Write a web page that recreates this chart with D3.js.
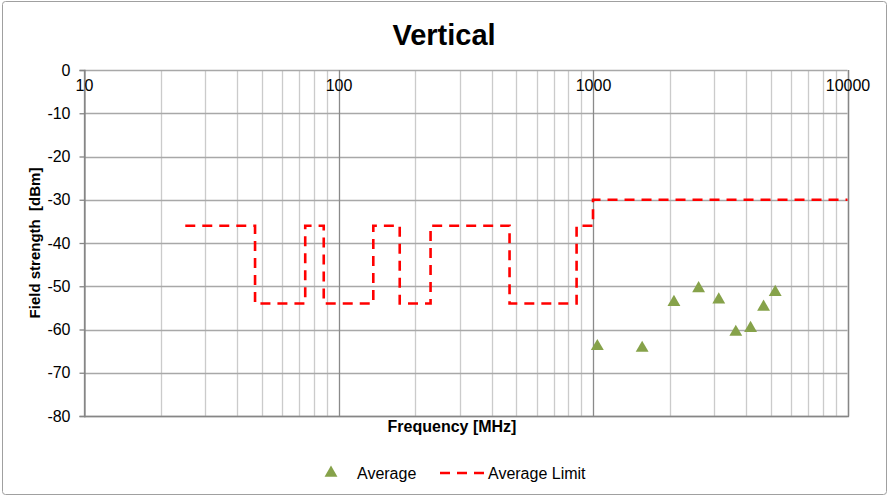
<!DOCTYPE html>
<html>
<head>
<meta charset="utf-8">
<script src="https://cdn.jsdelivr.net/npm/d3@7"></script>
<style>
  html, body { margin: 0; padding: 0; background: #fff; }
  svg { display: block; font-family: "Liberation Sans", Arial, sans-serif; }
</style>
</head>
<body>
<svg id="chart" width="888" height="496"></svg>
<script>
// Measured average emission levels (vertical polarisation)
const avgFreq  = [1040, 1560, 2080, 2600, 3120, 3640, 4160, 4680, 5200];
const avgLevel = [-63.9, -64.3, -53.7, -50.5, -53.1, -60.6, -59.7, -54.8, -51.4];

// Average limit mask (step function, frequency in MHz / level in dBm)
const limitFreq  = [25, 47, 47, 74, 74, 87.5, 87.5, 137, 137, 174, 174, 230, 230, 470, 470, 862, 862, 1000, 1000, 10000];
const limitLevel = [-36, -36, -54, -54, -36, -36, -54, -54, -36, -36, -54, -54, -36, -36, -54, -54, -36, -36, -30, -30];

// Axis ticks
const xTicks = [10, 100, 1000, 10000];
const yTicks = [0, -10, -20, -30, -40, -50, -60, -70, -80];

const svg = d3.select("#chart");
const plot = { left: 84, right: 847.5, top: 70, bottom: 416 };

const x = d3.scaleLog().domain([10, 10000]).range([plot.left, plot.right]);
const y = d3.scaleLinear().domain([-80, 0]).range([plot.bottom, plot.top]);

// Outer chart frame
svg.append("rect")
  .attr("x", 2.5).attr("y", 1.5).attr("width", 884).attr("height", 493)
  .attr("rx", 3).attr("fill", "#fff").attr("stroke", "#a0a0a0").attr("stroke-width", 1);

// Title
svg.append("text")
  .attr("x", 444).attr("y", 45).attr("text-anchor", "middle")
  .attr("font-size", 29).attr("font-weight", "bold").attr("fill", "#000")
  .text("Vertical");

// Minor vertical gridlines (2..9 in each decade)
const minor = [];
for (let dec = 10; dec < 10000; dec *= 10) {
  for (let m = 2; m <= 9; m++) minor.push(dec * m);
}
svg.append("g").selectAll("line").data(minor).join("line")
  .attr("x1", d => Math.round(x(d)) + 0.5).attr("x2", d => Math.round(x(d)) + 0.5)
  .attr("y1", plot.top).attr("y2", plot.bottom)
  .attr("stroke", "#cbcbcb").attr("stroke-width", 1.3);

// Horizontal gridlines
svg.append("g").selectAll("line").data(yTicks).join("line")
  .attr("x1", plot.left).attr("x2", plot.right)
  .attr("y1", d => Math.round(y(d)) + 0.5).attr("y2", d => Math.round(y(d)) + 0.5)
  .attr("stroke", "#a8a8a8").attr("stroke-width", 1.3);

// Major (decade) vertical gridlines
svg.append("g").selectAll("line").data(xTicks).join("line")
  .attr("x1", d => Math.round(x(d)) + 0.5).attr("x2", d => Math.round(x(d)) + 0.5)
  .attr("y1", plot.top).attr("y2", plot.bottom)
  .attr("stroke", "#8a8a8a").attr("stroke-width", 1.3);

// Plot border: bottom and right edges
svg.append("path")
  .attr("d", `M${plot.left},${Math.round(plot.bottom) + 0.5}H${Math.round(plot.right) + 0.5}V${plot.top}`)
  .attr("fill", "none").attr("stroke", "#868686").attr("stroke-width", 1.3);

// Y axis (plain hyphen for negative labels)
const yAxis = d3.axisLeft(y).tickValues(yTicks).tickSize(5).tickPadding(9).tickFormat(d => String(d));
const gy = svg.append("g").attr("transform", `translate(${plot.left + 0.5},0)`).call(yAxis);
gy.select(".domain").attr("stroke", "#868686").attr("stroke-width", 1.3);
gy.selectAll(".tick line").attr("stroke", "#868686").attr("stroke-width", 1.3);
gy.selectAll(".tick text").attr("font-size", 16).attr("fill", "#000")
  .attr("font-family", "Liberation Sans, Arial, sans-serif");

// X axis labels sit just below the 0 dBm line
const xAxis = d3.axisBottom(x).tickValues(xTicks).tickSize(0).tickPadding(10).tickFormat(d => String(d));
const gx = svg.append("g").attr("transform", `translate(0,${plot.top})`).call(xAxis);
gx.select(".domain").remove();
gx.selectAll(".tick text").attr("font-size", 16).attr("fill", "#000")
  .attr("font-family", "Liberation Sans, Arial, sans-serif");

// Axis titles
svg.append("text")
  .attr("x", 452).attr("y", 432).attr("text-anchor", "middle")
  .attr("font-size", 16).attr("font-weight", "bold").attr("fill", "#000")
  .text("Frequency [MHz]");
svg.append("text")
  .attr("transform", "translate(40,243) rotate(-90)")
  .attr("text-anchor", "middle")
  .attr("font-size", 15).attr("font-weight", "bold").attr("fill", "#000")
  .attr("xml:space", "preserve")
  .text("Field strength  [dBm]");

// Limit line
const limitData = limitFreq.map((f, i) => [f, limitLevel[i]]);
svg.append("path")
  .datum(limitData)
  .attr("d", d3.line().x(d => x(d[0])).y(d => y(d[1])))
  .attr("fill", "none").attr("stroke", "#ff0000").attr("stroke-width", 2.6)
  .attr("stroke-dasharray", "10,7");

// Measured points
const tri = d3.symbol(d3.symbolTriangle).size(72);
svg.append("g").selectAll("path").data(avgFreq.map((f, i) => [f, avgLevel[i]])).join("path")
  .attr("d", tri)
  .attr("transform", d => `translate(${x(d[0])},${y(d[1])})`)
  .attr("fill", "#86a24a");

// Legend
const lg = svg.append("g");
lg.append("path").attr("d", tri).attr("transform", "translate(331,473)").attr("fill", "#86a24a");
lg.append("text").attr("x", 357).attr("y", 479).attr("font-size", 16).attr("fill", "#000").text("Average");
lg.append("line").attr("x1", 440).attr("x2", 484).attr("y1", 473).attr("y2", 473)
  .attr("stroke", "#ff0000").attr("stroke-width", 2.6).attr("stroke-dasharray", "10,7");
lg.append("text").attr("x", 488).attr("y", 479).attr("font-size", 16).attr("fill", "#000").text("Average Limit");
</script>
</body>
</html>
